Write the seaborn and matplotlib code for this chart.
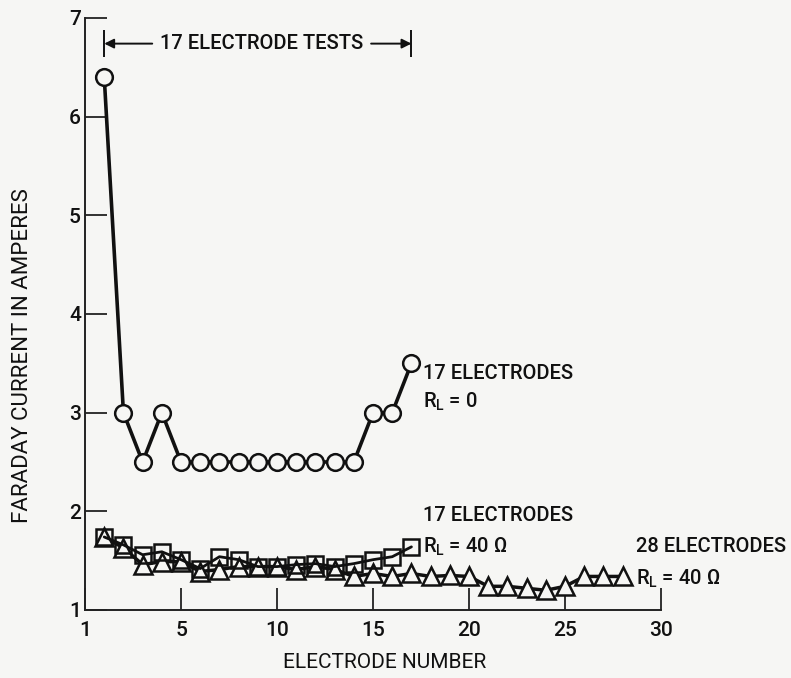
import matplotlib
matplotlib.use("Agg")
import matplotlib.pyplot as plt
import seaborn as sns

# Electrode numbers
electrodes_17 = list(range(1, 18))
electrodes_28 = list(range(1, 29))

# Faraday current (amperes)
current_17_rl0 = [6.40, 3.00, 2.50, 3.00, 2.50, 2.50, 2.50, 2.50, 2.50,
                  2.50, 2.50, 2.50, 2.50, 2.50, 3.00, 3.00, 3.50]
current_17_rl40 = [1.74, 1.66, 1.56, 1.59, 1.51, 1.42, 1.54, 1.51, 1.44,
                   1.44, 1.46, 1.47, 1.44, 1.47, 1.51, 1.54, 1.64]
current_28_rl40 = [1.74, 1.63, 1.46, 1.49, 1.49, 1.39, 1.41, 1.44, 1.44,
                   1.44, 1.41, 1.44, 1.41, 1.34, 1.37, 1.34, 1.37, 1.34,
                   1.35, 1.34, 1.24, 1.24, 1.22, 1.20, 1.24, 1.34, 1.34, 1.34]

x_ticks = [0, 5, 10, 15, 20, 25, 30]
x_tick_labels = ["1", "5", "10", "15", "20", "25", "30"]
y_ticks = [1, 2, 3, 4, 5, 6, 7]
y_tick_labels = ["1", "2", "3", "4", "5", "6", "7"]

sns.set_style("ticks")
plt.rcParams["font.family"] = ["Roboto", "DejaVu Sans"]
plt.rcParams["font.weight"] = "medium"
plt.rcParams["mathtext.default"] = "regular"

bg = "#f6f6f4"
ink = "#111111"
fig = plt.figure(figsize=(7.91, 6.78), dpi=100, facecolor=bg)
ax = fig.add_axes([0.1075, 0.1003, 0.7282, 0.8732], facecolor=bg)

# 28 electrodes, R_L = 40 ohm (triangles)
sns.lineplot(x=electrodes_28, y=current_28_rl40, ax=ax, color=ink,
             linewidth=2.5, marker="^", markersize=13, markerfacecolor=bg,
             markeredgecolor=ink, markeredgewidth=1.8)
# 17 electrodes, R_L = 40 ohm (squares)
sns.lineplot(x=electrodes_17, y=current_17_rl40, ax=ax, color=ink,
             linewidth=2.0, marker="s", markersize=11, markerfacecolor="none",
             markeredgecolor=ink, markeredgewidth=1.8)
# 17 electrodes, R_L = 0 (circles)
sns.lineplot(x=electrodes_17, y=current_17_rl0, ax=ax, color=ink,
             linewidth=2.6, marker="o", markersize=12, markerfacecolor=bg,
             markeredgecolor=ink, markeredgewidth=1.8)

ax.set_xlim(0, 30)
ax.set_ylim(1, 7)
ax.set_xticks(x_ticks)
ax.set_xticklabels(x_tick_labels)
ax.set_yticks(y_ticks)
ax.set_yticklabels(y_tick_labels)
ax.tick_params(axis="both", direction="in", length=16, width=1.3,
               labelsize=15, color="#222222", labelcolor=ink)
ax.tick_params(axis="x", pad=8)
ax.tick_params(axis="y", pad=3)
for side in ["top", "right"]:
    ax.spines[side].set_visible(False)
for side in ["left", "bottom"]:
    ax.spines[side].set_linewidth(1.4)
    ax.spines[side].set_color("#222222")

ax.set_xlabel("ELECTRODE NUMBER", fontsize=15, color=ink)
ax.set_ylabel("FARADAY CURRENT IN AMPERES", fontsize=16, color=ink)
ax.xaxis.set_label_coords(0.52, -0.072)
ax.yaxis.set_label_coords(-0.09, 0.43)

# Series labels
fs = 14.5
ax.text(17.6, 3.40, "17 ELECTRODES", fontsize=fs, va="center", ha="left", color=ink)
ax.text(17.6, 3.11, "R$_L$ = 0", fontsize=fs, va="center", ha="left", color=ink)
ax.text(17.6, 1.96, "17 ELECTRODES", fontsize=fs, va="center", ha="left", color=ink)
ax.text(17.6, 1.64, "R$_L$ = 40 Ω", fontsize=fs, va="center", ha="left", color=ink)
ax.text(28.7, 1.64, "28 ELECTRODES", fontsize=fs, va="center", ha="left",
        clip_on=False, color=ink)
ax.text(28.7, 1.32, "R$_L$ = 40 Ω", fontsize=fs, va="center", ha="left",
        clip_on=False, color=ink)

# "17 ELECTRODE TESTS" span marker
y_span = 6.74
ax.text(9.2, y_span, "17 ELECTRODE TESTS", fontsize=fs, va="center",
        ha="center", color=ink)
ax.annotate("", xy=(1, y_span), xytext=(3.5, y_span),
            arrowprops=dict(arrowstyle="-|>", color=ink, lw=1.4,
                            mutation_scale=14, shrinkA=0, shrinkB=0))
ax.annotate("", xy=(17, y_span), xytext=(14.9, y_span),
            arrowprops=dict(arrowstyle="-|>", color=ink, lw=1.4,
                            mutation_scale=14, shrinkA=0, shrinkB=0))
ax.vlines([1, 17], y_span - 0.14, y_span + 0.14, color=ink, lw=1.4)

fig.savefig("out.png", dpi=100, facecolor=bg)
